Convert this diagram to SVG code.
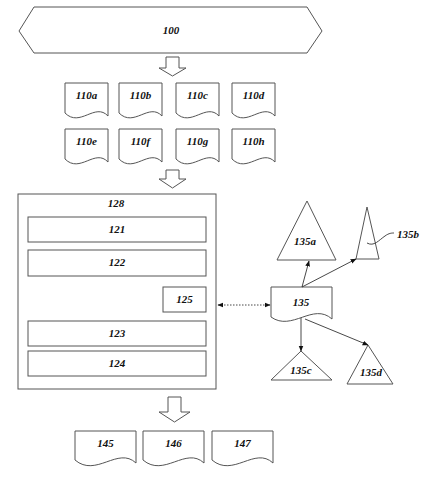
<svg xmlns="http://www.w3.org/2000/svg" width="431" height="480" viewBox="0 0 431 480">
<defs>
<style>
.s{fill:#fff;stroke:#555;stroke-width:1}
.t{font-family:"Liberation Serif","Times New Roman",serif;font-weight:bold;font-style:italic;font-size:11px;fill:#111;text-anchor:middle}
.c{fill:none;stroke:#333;stroke-width:0.9}
</style>
<marker id="ah" viewBox="0 0 10 10" refX="9" refY="5" markerWidth="6" markerHeight="6" orient="auto-start-reverse" markerUnits="userSpaceOnUse">
<path d="M0,1 L10,5 L0,9 z" fill="#111"/>
</marker>
</defs>
<rect width="431" height="480" fill="#fff"/>

<g id="n100"><polygon class="s" points="19,31 34,7 307,7 322,31 307,53 34,53"/><text class="t" x="171" y="34">100</text></g>

<g id="arrows-block">
<polygon class="s" points="166,57 179,57 179,68 186,68 172.5,76 159,68 166,68"/>
<polygon class="s" points="166,170 179,170 179,179 186,179 172.5,188 159,179 166,179"/>
<polygon class="s" points="168,397 181,397 181,412 190,412 174.5,422 159,412 168,412"/>
</g>

<g id="n110a"><path class="s" d="M65,83 H108 V116 C95,102 80,128 65,113 Z"/><text class="t" x="86.5" y="99">110a</text></g>
<g id="n110b"><path class="s" d="M119,83 H162 V116 C149,102 134,128 119,113 Z"/><text class="t" x="140.5" y="99">110b</text></g>
<g id="n110c"><path class="s" d="M176,83 H219 V116 C206,102 191,128 176,113 Z"/><text class="t" x="197.5" y="99">110c</text></g>
<g id="n110d"><path class="s" d="M232,83 H275 V116 C262,102 247,128 232,113 Z"/><text class="t" x="253.5" y="99">110d</text></g>
<g id="n110e"><path class="s" d="M65,129 H108 V162 C95,148 80,174 65,159 Z"/><text class="t" x="86.5" y="145">110e</text></g>
<g id="n110f"><path class="s" d="M119,129 H162 V162 C149,148 134,174 119,159 Z"/><text class="t" x="140.5" y="145">110f</text></g>
<g id="n110g"><path class="s" d="M176,129 H219 V162 C206,148 191,174 176,159 Z"/><text class="t" x="197.5" y="145">110g</text></g>
<g id="n110h"><path class="s" d="M232,129 H275 V162 C262,148 247,174 232,159 Z"/><text class="t" x="253.5" y="145">110h</text></g>

<g id="n128"><rect class="s" x="18" y="194" width="198" height="195"/><text class="t" x="116" y="207">128</text></g>
<g id="n121"><rect class="s" x="28" y="217" width="178" height="25"/><text class="t" x="117" y="233">121</text></g>
<g id="n122"><rect class="s" x="28" y="250" width="178" height="26"/><text class="t" x="117" y="266">122</text></g>
<g id="n125"><rect class="s" x="163" y="287" width="43" height="25"/><text class="t" x="184.5" y="303">125</text></g>
<g id="n123"><rect class="s" x="28" y="321" width="178" height="25"/><text class="t" x="117" y="337">123</text></g>
<g id="n124"><rect class="s" x="28" y="351" width="178" height="25"/><text class="t" x="117" y="367">124</text></g>

<g id="n135"><path class="s" d="M271,287 H332 V319 C313,302 292,332 271,317 Z"/><text class="t" x="301" y="306">135</text></g>
<g id="n135a"><polygon class="s" points="307,201 336,260 277,260"/><text class="t" x="305" y="245">135a</text></g>
<g id="n135b"><polygon class="s" points="367,207 379,259 356,259"/><path class="c" d="M367,243 C374,247 379,240 385,236 C389,233 392,233 394,233"/><text class="t" x="408" y="238">135b</text></g>
<g id="n135c"><polygon class="s" points="301,351 332,380 271,380"/><text class="t" x="301" y="374">135c</text></g>
<g id="n135d"><polygon class="s" points="368,345 393,384 347,384"/><text class="t" x="371" y="376">135d</text></g>

<g id="n145"><path class="s" d="M75,431 H136 V463 C118,446 96,478 75,460 Z"/><text class="t" x="105.5" y="447">145</text></g>
<g id="n146"><path class="s" d="M143,431 H204 V463 C186,446 164,478 143,460 Z"/><text class="t" x="173.5" y="447">146</text></g>
<g id="n147"><path class="s" d="M212,431 H273 V463 C255,446 233,478 212,460 Z"/><text class="t" x="242.5" y="447">147</text></g>

<g id="connectors">
<line class="c" x1="218" y1="305" x2="270" y2="305" stroke-dasharray="1.5,1.5" marker-start="url(#ah)" marker-end="url(#ah)"/>
<line class="c" x1="302" y1="287" x2="309" y2="261" marker-end="url(#ah)"/>
<line class="c" x1="302" y1="287" x2="356" y2="259" marker-end="url(#ah)"/>
<line class="c" x1="301" y1="318" x2="301" y2="351" marker-end="url(#ah)"/>
<line class="c" x1="305" y1="319" x2="368" y2="345" marker-end="url(#ah)"/>
</g>
</svg>
